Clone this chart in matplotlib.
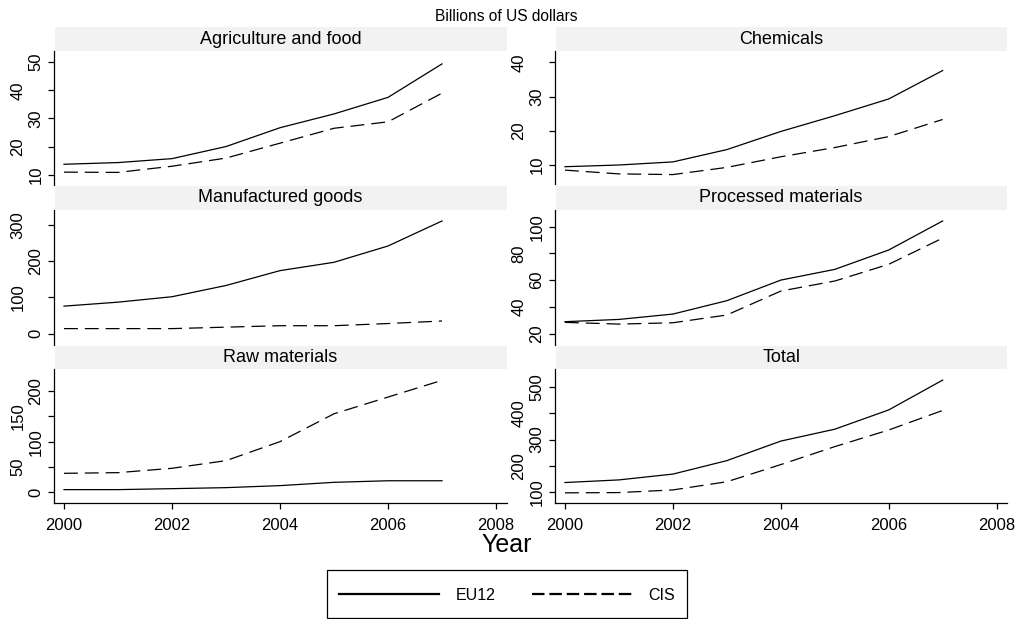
import matplotlib
matplotlib.use("Agg")
import matplotlib.pyplot as plt
from matplotlib.patches import Rectangle
from matplotlib.lines import Line2D

plt.rcParams['font.family'] = ['Liberation Sans', 'DejaVu Sans']
plt.rcParams['lines.scale_dashes'] = False

years = [2000, 2001, 2002, 2003, 2004, 2005, 2006, 2007]

panels = ["Agriculture and food", "Chemicals", "Manufactured goods",
          "Processed materials", "Raw materials", "Total"]

eu12_agri = [13.7, 14.3, 15.7, 20.0, 26.7, 31.6, 37.5, 49.4]
cis_agri = [10.9, 10.8, 13.0, 15.9, 21.2, 26.5, 28.8, 39.0]

eu12_chem = [9.5, 10.0, 10.9, 14.5, 19.8, 24.4, 29.3, 37.6]
cis_chem = [8.5, 7.4, 7.2, 9.3, 12.4, 15.1, 18.3, 23.3]

eu12_manuf = [76, 87, 102, 133, 174, 197, 242, 311]
cis_manuf = [14, 14, 14, 18, 22, 22, 28, 35]

eu12_proc = [29.0, 30.7, 34.7, 44.7, 60.1, 68.1, 82.6, 104.3]
cis_proc = [28.5, 27.2, 28.2, 34.0, 51.9, 59.4, 71.9, 91.5]

eu12_raw = [5.3, 5.3, 7.2, 9.2, 13.2, 19.7, 22.8, 22.8]
cis_raw = [37.5, 38.8, 47.4, 62.5, 100, 155, 188, 221]

eu12_total = [137, 147, 169, 220, 294, 339, 412, 525]
cis_total = [98, 99, 109, 140, 205, 273, 336, 410]

eu12_series = [eu12_agri, eu12_chem, eu12_manuf, eu12_proc, eu12_raw, eu12_total]
cis_series = [cis_agri, cis_chem, cis_manuf, cis_proc, cis_raw, cis_total]

y_ticks = [[10, 20, 30, 40, 50], [10, 20, 30, 40], [0, 100, 200, 300],
           [20, 40, 60, 80, 100], [0, 50, 100, 150, 200],
           [100, 200, 300, 400, 500]]
y_lims = [(6.5, 54.1), (4.3, 43.4), (-30.4, 341.3), (11.8, 112.5),
          (-21.7, 243.4), (58.4, 567)]
x_ticks = [2000, 2002, 2004, 2006, 2008]

W, H = 1019, 619
fig = plt.figure(figsize=(W / 100, H / 100), dpi=100)

col_x = [(54, 506.7), (555, 1007.3)]
rows = [((27.3, 50.7), (50.7, 184.5)),
        ((185.7, 210.0), (210.0, 344.7)),
        ((345.7, 369.0), (369.0, 503.3))]

strip_color = '#f2f2f2'
inner_pad, outer_pad = 3.3, 16.3

for i, name in enumerate(panels):
    r, c = divmod(i, 2)
    x0, x1 = col_x[c]
    (s0, s1), (a0, a1) = rows[r]
    ax = fig.add_axes([x0 / W, 1 - a1 / H, (x1 - x0) / W, (a1 - a0) / H])
    # strip
    fig.add_artist(Rectangle((x0 / W + 0.001, 1 - s1 / H), (x1 - x0) / W - 0.001,
                             (s1 - s0) / H, transform=fig.transFigure,
                             facecolor=strip_color, edgecolor='none'))
    fig.text((x0 + x1) / 2 / W, 1 - (s0 + s1) / 2 / H, name, ha='center',
             va='center', fontsize=13, color='black')

    ax.plot(years, eu12_series[i], color='black', lw=0.9, solid_joinstyle='miter')
    ax.plot(years, cis_series[i], color='black', lw=0.9, dashes=(10, 5))

    ax.set_xlim(1999.815, 2008.198)
    ax.set_ylim(*y_lims[i])
    ax.set_yticks(y_ticks[i])
    ax.set_xticks(x_ticks)
    for sp in ['top', 'right']:
        ax.spines[sp].set_visible(False)
    ax.spines['left'].set_linewidth(0.9)
    ax.spines['bottom'].set_linewidth(0.9)
    ax.tick_params(axis='y', length=4.2, width=0.9, labelsize=12, pad=inner_pad,
                   labelrotation=90)
    if r < 2:
        ax.spines['bottom'].set_visible(False)
        ax.tick_params(axis='x', bottom=False, labelbottom=False)
    else:
        ax.tick_params(axis='x', length=4.3, width=0.9, labelsize=12, pad=6)
    ticks = ax.yaxis.get_major_ticks(len(y_ticks[i]))
    for j, t in enumerate(ticks):
        t.set_pad(inner_pad if j % 2 == 0 else outer_pad)
        t.label1.set_va('center')
    ax.patch.set_alpha(0)

fig.text(506.5 / W, 1 - 20.7 / H, "Billions of US dollars", ha='center',
         va='baseline', fontsize=11.2)
fig.text(506.5 / W, 1 - 545 / H, "Year", ha='center', va='center', fontsize=18)

# legend
fig.add_artist(Rectangle((327.3 / W, 1 - 618 / H), (686.7 - 327.3) / W,
                         (618 - 570) / H, transform=fig.transFigure,
                         facecolor='white', edgecolor='black', lw=0.9))
handles = [Line2D([], [], color='black', lw=1.6),
           Line2D([], [], color='black', lw=1.6, dashes=(9, 3.5))]
fig.legend(handles, ["EU12", "CIS"], loc='center', ncol=2,
           bbox_to_anchor=(507 / W, 1 - 595 / H), frameon=False,
           fontsize=11.5, handlelength=6.3, handletextpad=1.0,
           columnspacing=2.3, borderpad=0.3)

fig.savefig("out.png", dpi=100)
